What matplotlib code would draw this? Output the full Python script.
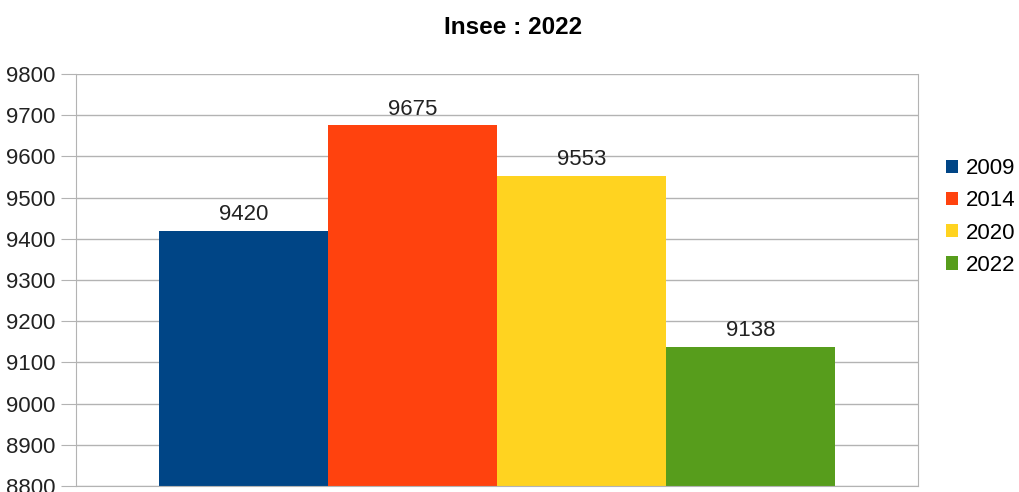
#!/usr/bin/env python3
import matplotlib
matplotlib.use("Agg")
import matplotlib.pyplot as plt

years = ['2009', '2014', '2020', '2022']
values = [9420, 9675, 9553, 9138]
colors = ['#004586', '#ff420e', '#ffd320', '#579d1c']
yticks = list(range(8800, 9801, 100))

plt.rcParams['font.family'] = ['Liberation Sans', 'DejaVu Sans']

fig = plt.figure(figsize=(10.19, 4.92), dpi=100)
ax = fig.add_axes([76 / 1019, 6 / 492, (918 - 76) / 1019, (486 - 74) / 492])

bars = []
for i, (yr, v, c) in enumerate(zip(years, values, colors)):
    b = ax.bar(i, v - 8800, bottom=8800, width=1.0, color=c, label=yr, zorder=2)
    bars.append(b)
    ax.text(i, v + 13, str(v), ha='center', va='bottom', fontsize=16, color='#222222')

ax.set_xlim(-0.99, 3.99)
ax.set_ylim(8800, 9800)
ax.set_yticks(yticks)
ax.set_yticklabels([str(t) for t in yticks], fontsize=16, color='#222222')
ax.set_xticks([])
ax.yaxis.grid(True, color='#b3b3b3', linewidth=1, zorder=0)
ax.tick_params(axis='y', length=11, color='#b3b3b3', pad=4)
for s in ax.spines.values():
    s.set_color('#b3b3b3')
ax.spines['top'].set_visible(False)

fig.text(513 / 1019, 1 - 28 / 492, 'Insee : 2022', ha='center', va='center',
         fontsize=17.5, fontweight='bold')

fig.legend(handles=[b[0] for b in bars], labels=years, loc='center left',
           bbox_to_anchor=(946 / 1019, 1 - 217 / 492), frameon=False,
           fontsize=16, handlelength=0.55, handleheight=0.55, handletextpad=0.35,
           labelspacing=0.5, borderaxespad=0, borderpad=0)

fig.savefig('out.png', dpi=100)
